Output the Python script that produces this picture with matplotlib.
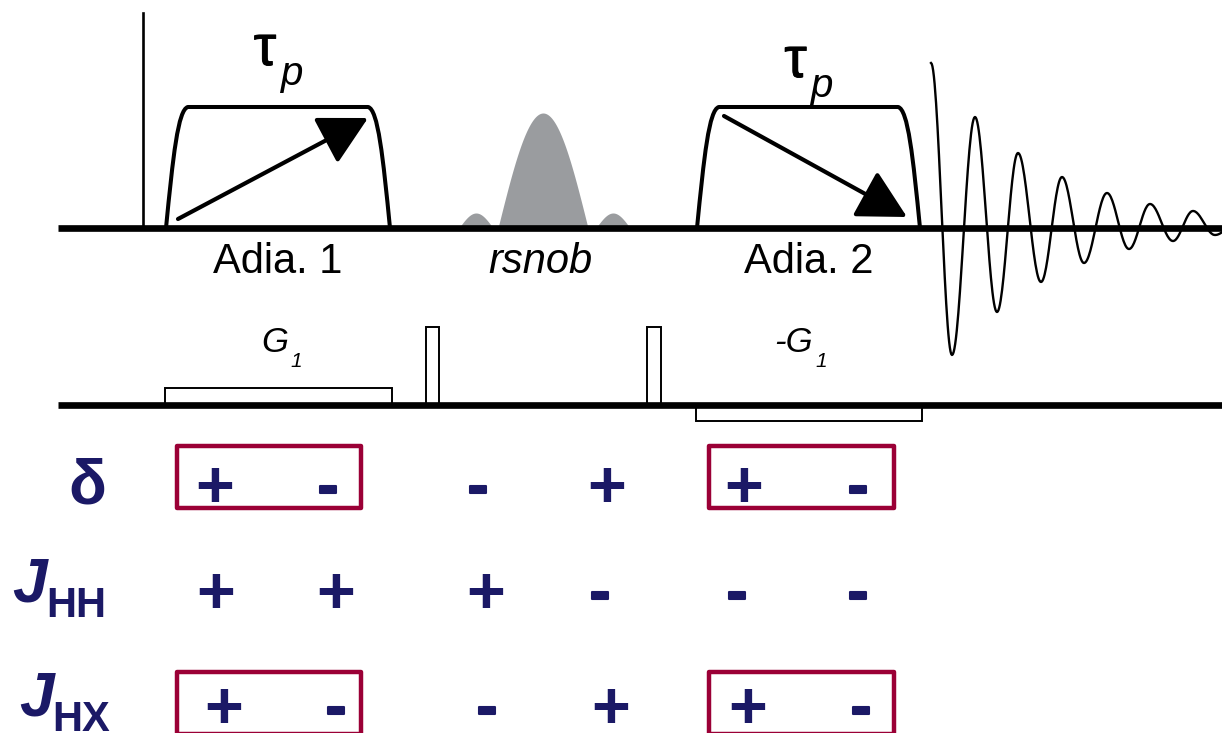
import numpy as np
import matplotlib.pyplot as plt
import matplotlib.patheffects as pe
from matplotlib.path import Path
from matplotlib.patches import PathPatch, Rectangle

plt.rcParams['font.family'] = ['Liberation Sans', 'DejaVu Sans']

# canvas units: x to the right, y downward
rf_axis_y = 228
grad_axis_y = 405
axis_start, axis_end = 58, 1222

# RF channel
hard_pulse_x = 143
hard_pulse_height = 215

adia_names = ['Adia. 1', 'Adia. 2']
adia_start = [166, 697]
adia_end = [390, 920]
adia_height = 121
adia_sweep = ['up', 'down']
tau_baseline = [65, 77]

# rsnob envelope: lobe centre, half width, height
rsnob_center = [476, 543, 613]
rsnob_halfwidth = [17, 45, 17]
rsnob_height = [15, 115, 15]

# FID turning points: position and signed amplitude
fid_x = [931, 952, 975, 997, 1018, 1041, 1062, 1084, 1107, 1129, 1150, 1173, 1193, 1215, 1237]
fid_amp = [165, -127, 111, -84, 75, -54, 51, -35, 35, -21, 24, -13, 17, -7, 5]

# gradient channel
grad_start = [165, 426, 647, 696]
grad_end = [392, 439, 661, 922]
grad_amp = [17, 78, 78, -16]
grad_labels = {0: 'G', 3: '-G'}

# sign table
delta_signs = ['+', '-', '-', '+', '+', '-']
jhh_signs = ['+', '+', '+', '-', '-', '-']
jhx_signs = ['+', '-', '-', '+', '+', '-']
sign_rows = [delta_signs, jhh_signs, jhx_signs]
sign_cols = [[215, 328, 478, 607, 744, 858],
             [216, 336, 486, 600, 737, 858],
             [224, 336, 487, 611, 748, 861]]
row_y = [486, 592, 707]
glyph_shift = {'+': 4, '-': 3}
glyph_size = {'+': 48, '-': 45}

box_rows = [0, 2]
box_spans = [(177, 361), (709, 894)]
box_top = [446, 672]
box_h = 62

navy = '#1b1966'
crimson = '#9b0036'
grey = '#9a9c9f'

fig = plt.figure(figsize=(12.22, 7.33), dpi=100)
ax = fig.add_axes([0, 0, 1, 1])
ax.set_xlim(0, 1222)
ax.set_ylim(733, 0)
ax.axis('off')

# axes lines
for y in (rf_axis_y, grad_axis_y):
    ax.plot([axis_start, axis_end], [y, y], color='black', lw=4.8,
            solid_capstyle='butt', zorder=5)

# hard pulse
ax.plot([hard_pulse_x, hard_pulse_x],
        [rf_axis_y, rf_axis_y - hard_pulse_height], color='black', lw=1.9)

# adiabatic pulses
top = rf_axis_y - adia_height
for i, (x0, x1) in enumerate(zip(adia_start, adia_end)):
    verts = [(x0, rf_axis_y), (x0 + 7, top + 50), (x0 + 12, top + 2), (x0 + 22, top),
             (x1 - 22, top), (x1 - 12, top + 2), (x1 - 7, top + 50), (x1, rf_axis_y)]
    codes = [Path.MOVETO, Path.CURVE4, Path.CURVE4, Path.CURVE4,
             Path.LINETO, Path.CURVE4, Path.CURVE4, Path.CURVE4]
    ax.add_patch(PathPatch(Path(verts, codes), fill=False, lw=2.9,
                           edgecolor='black', capstyle='round', joinstyle='round'))
    if adia_sweep[i] == 'up':
        tail, tip = (x0 + 12, rf_axis_y - 9), (x1 - 22, top + 11)
    else:
        tail, tip = (x0 + 27, top + 9), (x1 - 13, rf_axis_y - 11)
    ax.annotate('', xy=tip, xytext=tail,
                arrowprops=dict(arrowstyle='-|>,head_length=1.5,head_width=0.8',
                                mutation_scale=20, lw=3.0, color='black',
                                shrinkA=0, shrinkB=0))
    cx = (x0 + x1) / 2
    ax.text(cx - 13, tau_baseline[i], 'τ', fontsize=41, ha='center', va='baseline',
            path_effects=[pe.withStroke(linewidth=0.6, foreground='black')])
    ax.text(cx + 14, tau_baseline[i] + 20, 'p', fontsize=29, style='italic',
            ha='center', va='baseline')
    ax.text(cx, 273, adia_names[i], fontsize=30, ha='center', va='baseline')

# rsnob shaped pulse
for c, hw, h in zip(rsnob_center, rsnob_halfwidth, rsnob_height):
    u = np.linspace(-1, 1, 120)
    ax.fill_between(c + hw * u, rf_axis_y, rf_axis_y - h * np.cos(np.pi * u / 2),
                    color=grey, lw=0, zorder=1)
ax.text(540, 273, 'rsnob', fontsize=30, style='italic', ha='center', va='baseline')

# FID: half-cosine segments between turning points
xs, ys = [], []
for k in range(len(fid_x) - 1):
    s = np.linspace(0, 1, 30)
    xs.append(fid_x[k] + (fid_x[k + 1] - fid_x[k]) * s)
    ys.append(fid_amp[k] + (fid_amp[k + 1] - fid_amp[k]) * (1 - np.cos(np.pi * s)) / 2)
ax.plot(np.concatenate(xs), rf_axis_y - np.concatenate(ys), color='black', lw=1.7)

# gradients
for k, (g0, g1, a) in enumerate(zip(grad_start, grad_end, grad_amp)):
    ax.add_patch(Rectangle((g0, grad_axis_y), g1 - g0, -a, facecolor='white',
                           edgecolor='black', lw=1.4, zorder=3))
    if k in grad_labels:
        gx = (g0 + g1) / 2 + (10 if k == 0 else 4)
        ax.text(gx, 352, grad_labels[k], fontsize=25, style='italic',
                ha='right', va='baseline')
        ax.text(gx + 2, 367, '1', fontsize=15, style='italic',
                ha='left', va='baseline')

# sign table
ax.text(87, 504, 'δ', fontsize=45, fontweight='bold', color=navy,
        ha='center', va='baseline')
for j_left, sub_left, base, sub in [(12, 46, 602, 'HH'), (19, 52, 716, 'HX')]:
    ax.text(j_left, base, 'J', fontsize=45, fontweight='bold', style='italic',
            color=navy, ha='left', va='baseline')
    ax.text(sub_left, base + 15, sub, fontsize=30, fontweight='bold',
            color=navy, ha='left', va='baseline')

thick = {'+': [], '-': [pe.withStroke(linewidth=1.5, foreground=navy)]}
for r, signs in enumerate(sign_rows):
    for x, s in zip(sign_cols[r], signs):
        ax.text(x, row_y[r] + glyph_shift[s], s, fontsize=glyph_size[s],
                fontweight='bold', color=navy, ha='center', va='center',
                path_effects=thick[s])

for r, t in zip(box_rows, box_top):
    for x0, x1 in box_spans:
        ax.add_patch(Rectangle((x0, t), x1 - x0, box_h, fill=False,
                               edgecolor=crimson, lw=3.2, joinstyle='round'))

fig.savefig('out.png', dpi=100)
